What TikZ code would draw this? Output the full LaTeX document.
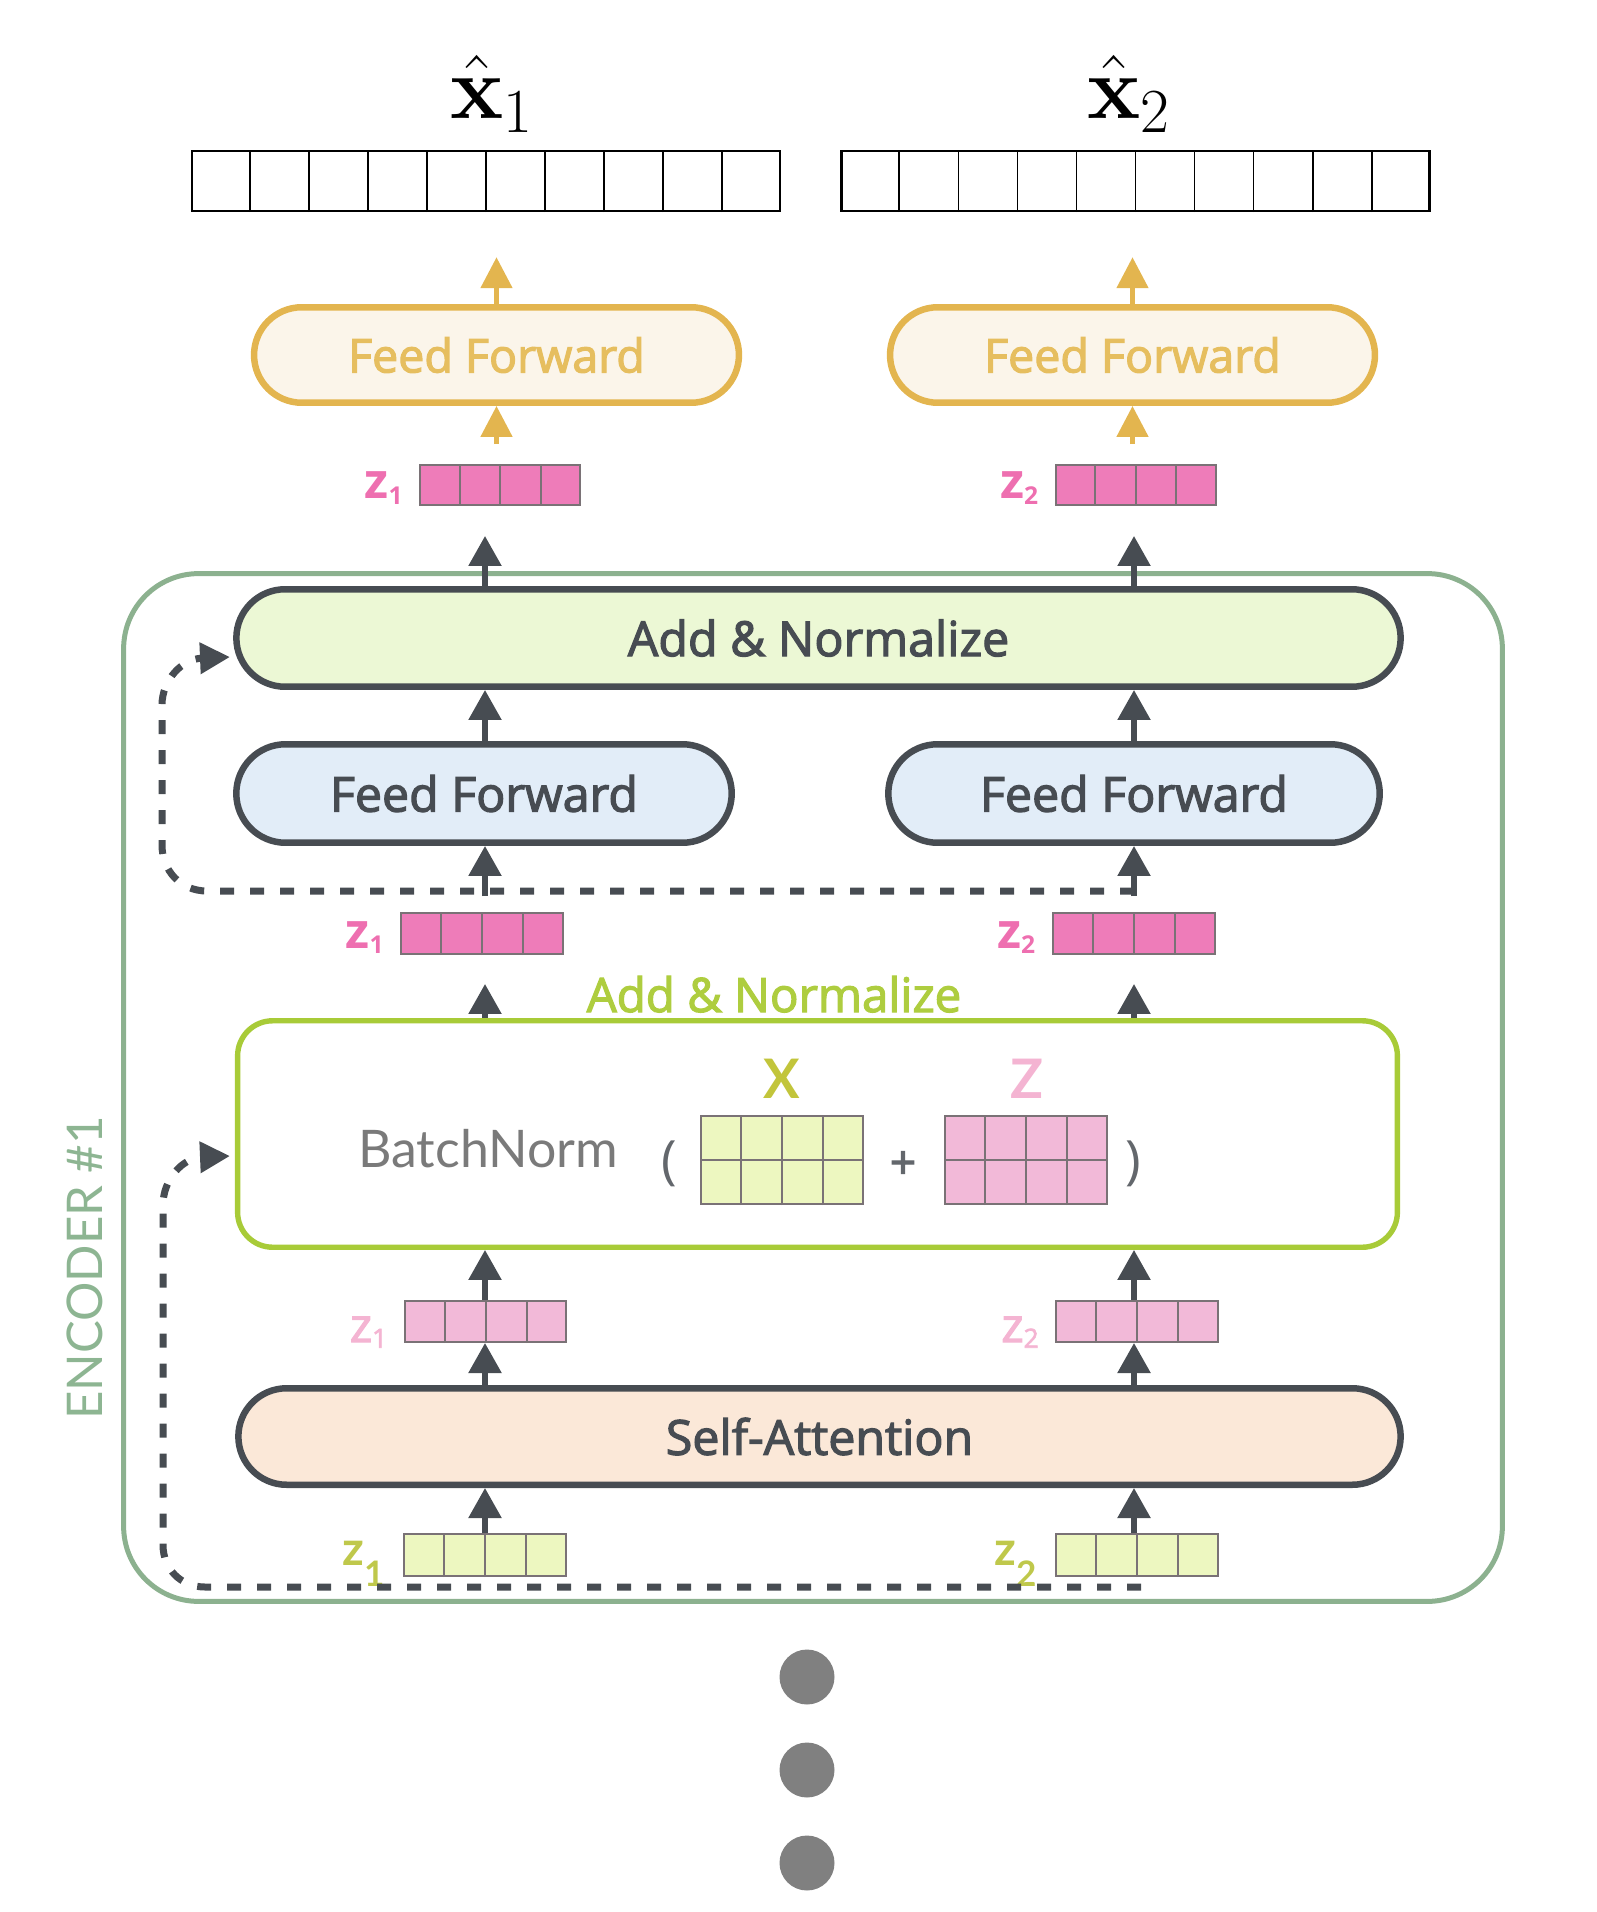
\RequirePackage{fix-cm}
\documentclass[tikz,border=0pt]{standalone}
\usepackage[no-math]{fontspec}
\setmainfont{Open Sans}
\newfontfamily\osemi{Open Sans}[FakeBold=2.5]
\newfontfamily\lato{Lato}
\usetikzlibrary{shapes.misc,arrows.meta,calc}
\definecolor{dgrey}{HTML}{474C52}
\definecolor{anF}{HTML}{ECF8D5}
\definecolor{ffF}{HTML}{E2EDF8}
\definecolor{saF}{HTML}{FBE8D8}
\definecolor{orB}{HTML}{E3B54F}
\definecolor{orF}{HTML}{FBF5EA}
\definecolor{orT}{HTML}{E6BE5F}
\definecolor{pkS}{HTML}{EE7CB9}
\definecolor{pkSt}{HTML}{EE6FB0}
\definecolor{pkL}{HTML}{F2B9D8}
\definecolor{pkLt}{HTML}{F4B4D2}
\definecolor{limeF}{HTML}{EDF7C0}
\definecolor{limeB}{HTML}{A8CB38}
\definecolor{limeT}{HTML}{AECD3F}
\definecolor{olive}{HTML}{BFC84B}
\definecolor{xlab}{HTML}{C2C53B}
\definecolor{encG}{HTML}{8CB18F}
\definecolor{encT}{HTML}{8DB592}
\definecolor{cellB}{HTML}{7A7276}
\definecolor{bnT}{HTML}{7A7A7A}
\definecolor{dotG}{HTML}{808080}
\newcommand\vcells[3]{%
  \foreach \k in {1,...,#2}{%
    \draw[#3] ($(#1.south west)!{\k/(#2+1)}!(#1.south east)$) -- ($(#1.north west)!{\k/(#2+1)}!(#1.north east)$);}}
\begin{document}
\begin{tikzpicture}[x=0.02cm,y=-0.02cm,
  stadium/.style={rounded rectangle, draw=dgrey, line width=0.13cm, inner sep=0,
    font=\osemi\fontsize{27.5}{32}\selectfont, text=dgrey},
  ostad/.style={rounded rectangle, draw=orB, fill=orF, line width=0.13cm, inner sep=0,
    font=\osemi\fontsize{26.5}{32}\selectfont, text=orT, minimum width=9.7cm, minimum height=1.91cm},
  garr/.style={draw=dgrey, line width=0.11cm, -{Triangle[length=0.6cm,width=0.64cm]}},
  oarr/.style={draw=orB, line width=0.1cm, -{Triangle[length=0.62cm,width=0.62cm]}},
  resid/.style={draw=dgrey, line width=0.14cm, dash pattern=on 0.28cm off 0.32cm,
    -{Triangle[length=0.6cm,width=0.6cm]}},
  vec/.style={draw=cellB, line width=0.04cm, inner sep=0, minimum width=3.24cm, minimum height=0.82cm},
  cellline/.style={draw=cellB, line width=0.04cm},
  bigvec/.style={draw=black, line width=0.05cm, inner sep=0, minimum width=11.76cm, minimum height=1.2cm},
  bigline/.style={draw=black, line width=0.035cm},
  zlabS/.style={anchor=base east, inner sep=0, text=pkSt, font=\bfseries\fontsize{28}{30}\selectfont},
  zlabL/.style={anchor=base east, inner sep=0, text=pkLt, font=\osemi\fontsize{27}{30}\selectfont},
  zlabG/.style={anchor=base east, inner sep=0, text=olive, font=\lato\bfseries\fontsize{27}{30}\selectfont},
  dot/.style={circle, fill=dotG, inner sep=0, minimum size=1.1cm}
]
\useasboundingbox (0,0) rectangle (1596,1912);
\coordinate (cL) at (485,0);
\coordinate (cR) at (1134,0);

% encoder frame
\node[draw=encG, line width=0.1cm, rounded corners=1.5cm, minimum width=27.58cm, minimum height=20.56cm] (enc) at (813,1087.5) {};
\node[rotate=90, inner sep=0, text=encT, font=\lato\fontsize{28}{30}\selectfont] (enclab) at (85,1268) {ENCODER \#1};

% output vectors
\node[anchor=base west, inner sep=0] (xh1) at (450,119) {\fontsize{51}{60}\selectfont$\hat{\mathbf{x}}_1$};
\node[anchor=base west, inner sep=0] (xh2) at (1087,119) {\fontsize{51}{60}\selectfont$\hat{\mathbf{x}}_2$};
\node[bigvec] (xv1) at (486,181) {};
\node[bigvec] (xv2) at (1135.5,181) {};
\vcells{xv1}{9}{bigline}
\vcells{xv2}{9}{bigline}

% orange feed forward
\node[ostad] (ffo1) at (496.5,355) {Feed Forward};
\node[ostad] (ffo2) at (1132.5,355) {Feed Forward};

% top z vectors
\node[vec, fill=pkS, minimum width=3.2cm, minimum height=0.8cm] (zt1) at (500,485) {};
\node[vec, fill=pkS, minimum width=3.2cm, minimum height=0.8cm] (zt2) at (1135.5,485) {};
\vcells{zt1}{3}{cellline}
\vcells{zt2}{3}{cellline}
\node[zlabS] (lzt1) at ([xshift=-0.32cm,yshift=0.14cm]zt1.south west) {z\raisebox{-0.12em}{\fontsize{14}{16}\selectfont 1}};
\node[zlabS] (lzt2) at ([xshift=-0.32cm,yshift=0.14cm]zt2.south west) {z\raisebox{-0.12em}{\fontsize{14}{16}\selectfont 2}};

% add & normalize
\node[stadium, fill=anF, minimum width=23.29cm, minimum height=1.95cm] (an) at (818.5,638) {Add \& Normalize};
% feed forward blue
\node[stadium, fill=ffF, minimum width=9.91cm, minimum height=1.97cm] (ffb1) at (484,793.5) {Feed Forward};
\node[stadium, fill=ffF, minimum width=9.83cm, minimum height=1.97cm] (ffb2) at (1134,793.5) {Feed Forward};

% middle z vectors
\node[vec, fill=pkS] (zm1) at (482,933.5) {};
\node[vec, fill=pkS] (zm2) at (1133.5,933.5) {};
\vcells{zm1}{3}{cellline}
\vcells{zm2}{3}{cellline}
\node[zlabS] (lzm1) at ([xshift=-0.32cm,yshift=0.14cm]zm1.south west) {z\raisebox{-0.12em}{\fontsize{14}{16}\selectfont 1}};
\node[zlabS] (lzm2) at ([xshift=-0.32cm,yshift=0.14cm]zm2.south west) {z\raisebox{-0.12em}{\fontsize{14}{16}\selectfont 2}};

% batchnorm box
\node[draw=limeB, fill=white, line width=0.108cm, rounded corners=0.7cm, minimum width=23.2cm, minimum height=4.53cm] (bn) at (817.5,1134) {};
\node[anchor=base, inner sep=0, text=limeT, font=\osemi\fontsize{27}{32}\selectfont] (anlab) at (774,1012) {Add \& Normalize};
\node[anchor=base west, inner sep=0, text=bnT, font=\lato\fontsize{29.5}{34}\selectfont] (bntext) at (358,1167) {BatchNorm};
\node[inner sep=0, text=dgrey!85, font=\fontsize{30}{34}\selectfont] (lp) at (669,1164) {(};
\node[inner sep=0, text=dgrey!85, font=\fontsize{30}{34}\selectfont] (rp) at (1133,1164) {)};
\node[inner sep=0, text=dgrey!85, font=\osemi\fontsize{26}{30}\selectfont] (plus) at (903,1165) {+};
\node[vec, fill=limeF, minimum width=3.24cm, minimum height=1.76cm] (mX) at (782,1160) {};
\node[vec, fill=pkL, minimum width=3.24cm, minimum height=1.76cm] (mZ) at (1026,1160) {};
\vcells{mX}{3}{cellline}
\vcells{mZ}{3}{cellline}
\draw[cellline] (mX.west) -- (mX.east);
\draw[cellline] (mZ.west) -- (mZ.east);
\node[inner sep=0, text=xlab, font=\lato\bfseries\fontsize{31}{34}\selectfont] (Xl) at (782,1079) {X};
\node[inner sep=0, text=pkLt, font=\lato\bfseries\fontsize{31}{34}\selectfont] (Zl) at (1027,1079) {Z};

% light pink z vectors
\node[vec, fill=pkL] (zl1) at (485.5,1321.5) {};
\node[vec, fill=pkL] (zl2) at (1137,1321.5) {};
\vcells{zl1}{3}{cellline}
\vcells{zl2}{3}{cellline}
\node[zlabL] (lzl1) at ([xshift=-0.32cm,yshift=0.02cm]zl1.south west) {z\raisebox{-0.12em}{\fontsize{15}{16}\selectfont 1}};
\node[zlabL] (lzl2) at ([xshift=-0.32cm,yshift=0.02cm]zl2.south west) {z\raisebox{-0.12em}{\fontsize{15}{16}\selectfont 2}};

% self-attention
\node[stadium, fill=saF, minimum width=23.25cm, minimum height=1.93cm] (sa) at (819.5,1436.5) {Self-Attention};

% lime z vectors
\node[vec, fill=limeF, minimum height=0.84cm] (zb1) at (485,1555) {};
\node[vec, fill=limeF, minimum height=0.84cm] (zb2) at (1137,1555) {};
\vcells{zb1}{3}{cellline}
\vcells{zb2}{3}{cellline}
\node[zlabG] (lzb1) at ([xshift=-0.36cm,yshift=0.24cm]zb1.south west) {z\raisebox{-0.45em}{\fontsize{20}{22}\selectfont 1}};
\node[zlabG] (lzb2) at ([xshift=-0.36cm,yshift=0.24cm]zb2.south west) {z\raisebox{-0.45em}{\fontsize{20}{22}\selectfont 2}};

% arrows
\draw[oarr, shorten >=0.9cm] (ffo1.north) -- (ffo1.north |- xv1.south);
\draw[oarr, shorten >=0.9cm] (ffo2.north) -- (ffo2.north |- xv2.south);
\draw[oarr, shorten <=0.4cm] (ffo1.south |- zt1.north) -- (ffo1.south);
\draw[oarr, shorten <=0.4cm] (ffo2.south |- zt2.north) -- (ffo2.south);
\draw[garr, shorten >=0.6cm] (an.north -| cL) -- (cL |- zt1.south);
\draw[garr, shorten >=0.6cm] (an.north -| cR) -- (cR |- zt2.south);
\draw[garr] (ffb1.north -| cL) -- (an.south -| cL);
\draw[garr] (ffb2.north -| cR) -- (an.south -| cR);
\draw[garr, shorten <=0.32cm] (zm1.north -| cL) -- (ffb1.south -| cL);
\draw[garr, shorten <=0.32cm] (zm2.north -| cR) -- (ffb2.south -| cR);
\draw[garr, shorten >=0.58cm] (bn.north -| cL) -- (cL |- zm1.south);
\draw[garr, shorten >=0.58cm] (bn.north -| cR) -- (cR |- zm2.south);
\draw[garr] (zl1.north -| cL) -- (bn.south -| cL);
\draw[garr] (zl2.north -| cR) -- (bn.south -| cR);
\draw[garr] (sa.north -| cL) -- (zl1.south -| cL);
\draw[garr] (sa.north -| cR) -- (zl2.south -| cR);
\draw[garr] (zb1.north -| cL) -- (sa.south -| cL);
\draw[garr] (zb2.north -| cR) -- (sa.south -| cR);

% residual connections
\coordinate (r1s) at (1134,891);
\coordinate (r1e) at (230,657);
\coordinate (r2s) at (1141,1587);
\coordinate (r2e) at (230,1156);
\draw[resid] (r1s) -- (207,891) .. controls (180,891) and (162,870) .. (162,845) -- (162,705) .. controls (162,680) and (182,659) .. (r1e);
\draw[resid] (r2s) -- (205,1587) .. controls (180,1587) and (163,1568) .. (163,1545) -- (163,1205) .. controls (163,1180) and (182,1158) .. (r2e);

% dots
\node[dot] (d1) at (807,1677) {};
\node[dot] (d2) at (807,1770) {};
\node[dot] (d3) at (807,1863) {};
\end{tikzpicture}
\end{document}
